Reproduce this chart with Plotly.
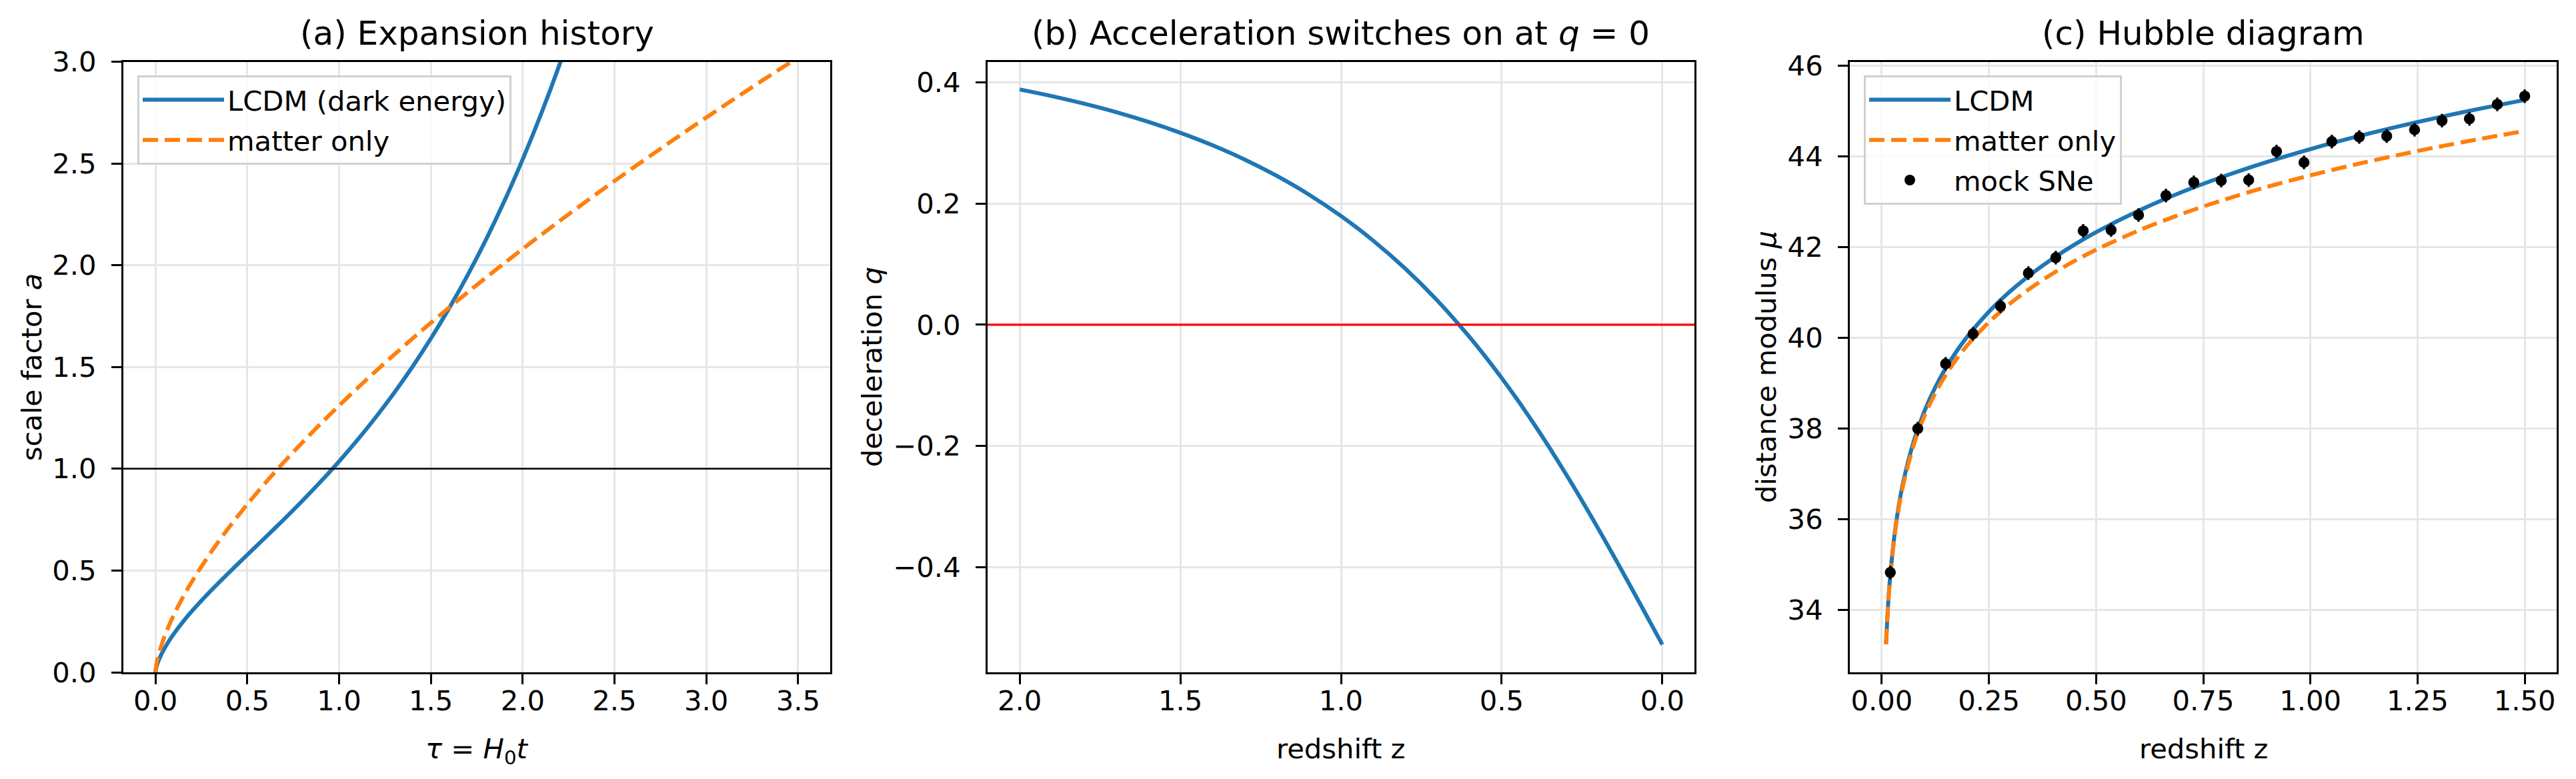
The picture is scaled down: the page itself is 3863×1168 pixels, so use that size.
import plotly.graph_objects as go

W, H = 3863, 1168
FONT = "DejaVu Sans"
FS = 41.7
BLUE = "#1f77b4"
ORANGE = "#ff7f0e"

# ---------------- (a) Expansion history ----------------
tau_lcdm = [0, 0.002, 0.005, 0.01, 0.02, 0.035, 0.05, 0.075, 0.1, 0.15, 0.2, 0.3, 0.4, 0.5,
            0.6, 0.7, 0.8, 0.9, 1.0, 1.1, 1.2, 1.3, 1.4, 1.5, 1.6, 1.7, 1.8, 1.9, 2.0, 2.1,
            2.2, 2.3]
a_lcdm = [0, 0.0139, 0.0257, 0.0407, 0.0646, 0.0939, 0.1191, 0.1561, 0.1893, 0.2486, 0.3021,
          0.3993, 0.4896, 0.5770, 0.6637, 0.7519, 0.8425, 0.9370, 1.0362, 1.1414, 1.2534,
          1.3731, 1.5018, 1.6402, 1.7896, 1.9509, 2.1257, 2.3150, 2.5204, 2.7428, 2.984, 3.247]
tau_matter = [0, 0.002, 0.005, 0.01, 0.02, 0.035, 0.05, 0.075, 0.1, 0.15, 0.2, 0.3, 0.4, 0.5,
              0.6, 0.7, 0.8, 0.9, 1.0, 1.1, 1.2, 1.3, 1.4, 1.5, 1.6, 1.7, 1.8, 1.9, 2.0, 2.1,
              2.2, 2.3, 2.4, 2.5, 2.6, 2.7, 2.8, 2.9, 3.0, 3.1, 3.2, 3.3, 3.4, 3.5]
a_matter = [0, 0.0208, 0.0383, 0.0608, 0.0965, 0.1402, 0.1778, 0.2330, 0.2823, 0.3699, 0.4481,
            0.5872, 0.7114, 0.8255, 0.9322, 1.0331, 1.1292, 1.2215, 1.3104, 1.3964, 1.4797,
            1.5608, 1.6399, 1.7171, 1.7926, 1.8665, 1.9390, 2.0101, 2.0801, 2.1488, 2.2167,
            2.2833, 2.3490, 2.4138, 2.4777, 2.5408, 2.6031, 2.6648, 2.7257, 2.7860, 2.8455,
            2.9046, 2.9629, 3.0207]
a_today = 1.0

# ---------------- (b) Deceleration ----------------
z_q = [0, 0.05, 0.1, 0.15, 0.2, 0.25, 0.3, 0.35, 0.4, 0.45, 0.5, 0.55, 0.6, 0.7, 0.8, 0.9,
       1.0, 1.1, 1.2, 1.3, 1.4, 1.5, 1.6, 1.7, 1.8, 1.9, 2.0]
q_vals = [-0.5275, -0.4789, -0.4305, -0.3827, -0.3358, -0.2902, -0.2462, -0.2038, -0.1632,
          -0.1245, -0.0878, -0.0530, -0.0202, 0.0398, 0.0926, 0.1389, 0.1794, 0.2148, 0.2456,
          0.2726, 0.2961, 0.3167, 0.3348, 0.3508, 0.3648, 0.3772, 0.3882]
q_switch = 0.0

# ---------------- (c) Hubble diagram ----------------
z_curve = [0.01, 0.015, 0.02, 0.03, 0.04, 0.05, 0.075, 0.1, 0.125, 0.15, 0.175, 0.2, 0.25,
           0.3, 0.35, 0.4, 0.45, 0.5, 0.6, 0.7, 0.8, 0.9, 1.0, 1.1, 1.2, 1.3, 1.4, 1.5]
mu_lcdm = [33.257, 34.146, 34.779, 35.676, 36.317, 36.817, 37.734, 38.395, 38.915, 39.345,
           39.712, 40.034, 40.578, 41.031, 41.418, 41.757, 42.060, 42.332, 42.808, 43.215,
           43.568, 43.882, 44.163, 44.418, 44.651, 44.865, 45.063, 45.247]
mu_matter = [33.246, 34.129, 34.757, 35.642, 36.272, 36.762, 37.655, 38.292, 38.788, 39.196,
             39.542, 39.843, 40.348, 40.764, 41.118, 41.426, 41.699, 41.945, 42.372, 42.735,
             43.052, 43.333, 43.585, 43.813, 44.023, 44.216, 44.395, 44.562]
sne_z = [0.020, 0.084, 0.149, 0.213, 0.277, 0.342, 0.406, 0.470, 0.535, 0.599, 0.663, 0.728,
         0.792, 0.856, 0.921, 0.985, 1.050, 1.114, 1.178, 1.243, 1.307, 1.371, 1.436, 1.500]
sne_mu = [34.83, 38.00, 39.43, 40.09, 40.70, 41.43, 41.77, 42.36, 42.38, 42.71, 43.14, 43.43,
          43.47, 43.48, 44.11, 43.87, 44.33, 44.43, 44.45, 44.59, 44.79, 44.83, 45.15, 45.33]
sne_err = [0.15] * 24

# text
titles = ["(a) Expansion history",
          "(b) Acceleration switches on at <i>q</i> = 0",
          "(c) Hubble diagram"]
xlabels = ["<i>τ</i> = <i>H</i><sub>0</sub><i>t</i>", "redshift z", "redshift z"]
ylabels = ["scale factor <i>a</i>", "deceleration <i>q</i>", "distance modulus <i>μ</i>"]

# ---------------- layout geometry (pixels) ----------------
XD = [(185, 1245), (1481, 2541), (2774, 3834)]
YTOP, YBOT = 92.5, 1008
xdom = [[a / W, b / W] for a, b in XD]
ydom = [1 - YBOT / H, 1 - YTOP / H]

fig = go.Figure()
SPL = dict(shape="spline", smoothing=0.8)

fig.add_trace(go.Scatter(x=tau_lcdm, y=a_lcdm, mode="lines", name="LCDM (dark energy)",
                         line=dict(color=BLUE, width=6, **SPL), xaxis="x", yaxis="y",
                         legend="legend", legendgroup="a1"))
fig.add_trace(go.Scatter(x=tau_matter, y=a_matter, mode="lines", name="matter only",
                         line=dict(color=ORANGE, width=6, dash="23px,10px", **SPL),
                         xaxis="x", yaxis="y", legend="legend", legendgroup="a2"))

fig.add_trace(go.Scatter(x=z_q, y=q_vals, mode="lines", name="q", showlegend=False,
                         line=dict(color=BLUE, width=6, **SPL), xaxis="x2", yaxis="y2"))

fig.add_trace(go.Scatter(x=z_curve, y=mu_lcdm, mode="lines", name="LCDM",
                         line=dict(color=BLUE, width=6, **SPL), xaxis="x3", yaxis="y3",
                         legend="legend2", legendgroup="c1"))
fig.add_trace(go.Scatter(x=z_curve, y=mu_matter, mode="lines", name="matter only",
                         line=dict(color=ORANGE, width=6, dash="23px,10px", **SPL),
                         xaxis="x3", yaxis="y3", legend="legend2", legendgroup="c2"))
fig.add_trace(go.Scatter(x=sne_z, y=sne_mu, mode="markers", name="mock SNe",
                         marker=dict(color="black", size=16.5),
                         error_y=dict(type="data", array=sne_err, visible=True,
                                      color="black", thickness=3.3, width=0),
                         xaxis="x3", yaxis="y3", legend="legend2", legendgroup="c3"))

common = dict(showline=True, mirror=True, linecolor="black", linewidth=3,
              ticks="outside", ticklen=15, tickwidth=3, tickcolor="black",
              showgrid=True, gridcolor="#e6e6e6", gridwidth=3, zeroline=False,
              automargin=False,
              tickfont=dict(family=FONT, size=FS, color="black"))
xcommon = dict(common, ticklabelstandoff=-11)
ycommon = dict(common, ticklabelstandoff=14)

legend_style = dict(xanchor="left", yanchor="top",
                    bgcolor="rgba(255,255,255,0.8)", bordercolor="#d0d0d0", borderwidth=3,
                    font=dict(family=FONT, size=FS, color="black"), itemwidth=122,
                    tracegroupgap=3, traceorder="grouped")

fig.update_layout(
    template="none",
    width=W, height=H, autosize=False,
    margin=dict(l=0, r=0, t=0, b=0, pad=0),
    paper_bgcolor="white", plot_bgcolor="white",
    font=dict(family=FONT, size=FS, color="black"),
    xaxis=dict(domain=xdom[0], range=[-0.175, 3.675], anchor="y",
               tick0=0, dtick=0.5, tickformat=".1f", **xcommon),
    yaxis=dict(domain=ydom, range=[0, 3], anchor="x",
               tick0=0, dtick=0.5, tickformat=".1f", **ycommon),
    xaxis2=dict(domain=xdom[1], range=[2.1, -0.1], anchor="y2",
                tick0=0, dtick=0.5, tickformat=".1f", **xcommon),
    yaxis2=dict(domain=ydom, range=[-0.5733, 0.4340], anchor="x2",
                tick0=0, dtick=0.2, tickformat=".1f", **ycommon),
    xaxis3=dict(domain=xdom[2], range=[-0.0745, 1.5745], anchor="y3",
                tick0=0, dtick=0.25, tickformat=".2f", **xcommon),
    yaxis3=dict(domain=ydom, range=[32.63, 46.09], anchor="x3",
                tick0=34, dtick=2, tickformat="d", **ycommon),
    legend=dict(x=206 / W, y=1 - 113 / H, **legend_style),
    legend2=dict(x=2795 / W, y=1 - 113 / H, **legend_style),
    showlegend=True,
)

fig.add_shape(type="line", xref="x domain", x0=0, x1=1, yref="y", y0=a_today, y1=a_today,
              line=dict(color="black", width=2.5), layer="above")
fig.add_shape(type="line", xref="x2 domain", x0=0, x1=1, yref="y2", y0=q_switch, y1=q_switch,
              line=dict(color="red", width=3.3), layer="above")

ylab_x = [47, 1307, 2648]
for i in range(3):
    cx = (XD[i][0] + XD[i][1]) / 2 / W
    fig.add_annotation(text=titles[i], x=cx, y=1 - 50 / H, xref="paper", yref="paper",
                       xanchor="center", yanchor="middle", showarrow=False,
                       font=dict(family=FONT, size=50, color="black"))
    fig.add_annotation(text=xlabels[i], x=cx, y=1 - 1096 / H, xref="paper", yref="paper",
                       xanchor="center", yanchor="top", showarrow=False,
                       font=dict(family=FONT, size=FS, color="black"))
    fig.add_annotation(text=ylabels[i], x=ylab_x[i] / W, y=(ydom[0] + ydom[1]) / 2,
                       xref="paper", yref="paper", xanchor="center", yanchor="middle",
                       textangle=-90, showarrow=False,
                       font=dict(family=FONT, size=FS, color="black"))

fig.write_html("out.html")
